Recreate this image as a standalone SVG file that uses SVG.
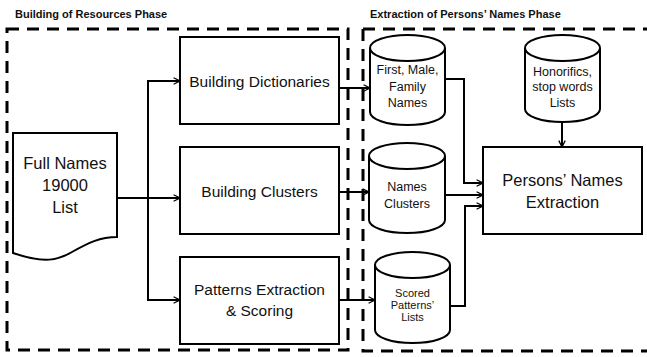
<svg xmlns="http://www.w3.org/2000/svg" width="647" height="357" viewBox="0 0 647 357">
<defs>
<marker id="arr" viewBox="0 0 10 10" refX="9" refY="5" markerWidth="8" markerHeight="8" markerUnits="userSpaceOnUse" orient="auto">
<path d="M1,1 L9,5 L1,9" fill="none" stroke="#000" stroke-width="1.6"/>
</marker>
<style>
.phase{fill:none;stroke:#000;stroke-width:3;stroke-dasharray:12,8}
.box{fill:#fff;stroke:#000;stroke-width:2}
.cyl{fill:#fff;stroke:#000;stroke-width:2}
.con{fill:none;stroke:#000;stroke-width:2;marker-end:url(#arr)}
.t{font-family:"Liberation Sans",Arial,sans-serif;fill:#111;text-anchor:middle}
.title{font-family:"Liberation Sans",Arial,sans-serif;font-weight:bold;font-size:11px;fill:#111}
</style>
</defs>
<rect width="647" height="357" fill="#fff"/>
<g id="phase-resources">
<rect class="phase" x="7" y="29" width="341" height="321"/>
<text class="title" x="15" y="18">Building of Resources Phase</text>
</g>
<g id="phase-extraction">
<path class="phase" d="M363,29 H660 M363,29 V351 H660"/>
<text class="title" x="370" y="18">Extraction of Persons’ Names Phase</text>
</g>
<g id="connectors">
<path class="con" d="M117,198 H180"/>
<path class="con" d="M148,198 V81 H180"/>
<path class="con" d="M148,198 V300 H180"/>
<path class="con" d="M339,88 H370"/>
<path class="con" d="M339,192 H369"/>
<path class="con" d="M339,300 H375"/>
<path class="con" d="M445,79 H464 V183 H483"/>
<path class="con" d="M445,195 H483"/>
<path class="con" d="M450,306 H465 V206 H483"/>
<path class="con" d="M562,122 V147"/>
</g>
<g id="full-names">
<path class="box" d="M13,133 H117 V237 C100,237 88,243 72,252 C58,260 45,264 13,253 Z"/>
<text class="t" x="65" y="169" font-size="16.5">Full Names</text>
<text class="t" x="65" y="191" font-size="16.5">19000</text>
<text class="t" x="65" y="213" font-size="16.5">List</text>
</g>
<g id="building-dictionaries">
<rect class="box" x="180" y="37" width="159" height="87"/>
<text class="t" x="259.5" y="87" font-size="15.5">Building Dictionaries</text>
</g>
<g id="building-clusters">
<rect class="box" x="180" y="147" width="159" height="87"/>
<text class="t" x="259.5" y="197" font-size="15.5">Building Clusters</text>
</g>
<g id="patterns-extraction">
<rect class="box" x="180" y="257" width="159" height="87"/>
<text class="t" x="259.5" y="295" font-size="15.5">Patterns Extraction</text>
<text class="t" x="259.5" y="316" font-size="15.5">&amp; Scoring</text>
</g>
<g id="first-male-family">
<path class="cyl" d="M370,48 V112 A37.5,13 0 0 0 445,112 V48 A37.5,13 0 0 0 370,48 Z M370,48 A37.5,13 0 0 0 445,48"/>
<text class="t" x="407.5" y="74" font-size="12.5">First, Male,</text>
<text class="t" x="407.5" y="91" font-size="12.5">Family</text>
<text class="t" x="407.5" y="107" font-size="12.5">Names</text>
</g>
<g id="names-clusters">
<path class="cyl" d="M369,156 V220 A38,13 0 0 0 445,220 V156 A38,13 0 0 0 369,156 Z M369,156 A38,13 0 0 0 445,156"/>
<text class="t" x="407" y="191" font-size="12.5">Names</text>
<text class="t" x="407" y="208" font-size="12.5">Clusters</text>
</g>
<g id="scored-patterns">
<path class="cyl" d="M375,265 V330 A37.5,13 0 0 0 450,330 V265 A37.5,13 0 0 0 375,265 Z M375,265 A37.5,13 0 0 0 450,265"/>
<text class="t" x="412.5" y="297" font-size="11">Scored</text>
<text class="t" x="412.5" y="309" font-size="11">Patterns’</text>
<text class="t" x="412.5" y="321" font-size="11">Lists</text>
</g>
<g id="honorifics">
<path class="cyl" d="M525,48 V109 A37.5,13 0 0 0 600,109 V48 A37.5,13 0 0 0 525,48 Z M525,48 A37.5,13 0 0 0 600,48"/>
<text class="t" x="562.5" y="76" font-size="12.5">Honorifics,</text>
<text class="t" x="562.5" y="91" font-size="12.5">stop words</text>
<text class="t" x="562.5" y="107" font-size="12.5">Lists</text>
</g>
<g id="persons-names-extraction">
<rect class="box" x="483" y="147" width="159" height="87"/>
<text class="t" x="562.5" y="186" font-size="16.5">Persons’ Names</text>
<text class="t" x="562.5" y="208" font-size="16.5">Extraction</text>
</g>
</svg>
